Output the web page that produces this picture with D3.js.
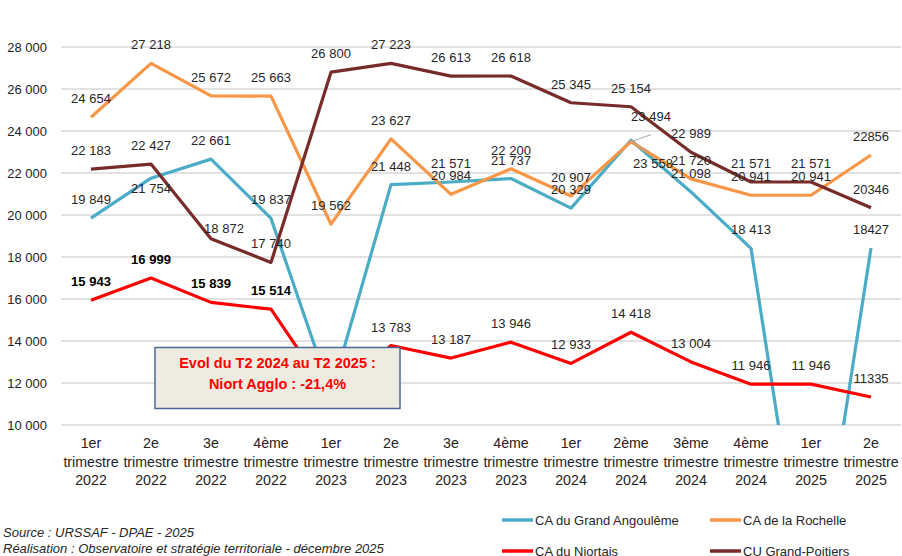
<!DOCTYPE html>
<html>
<head>
<meta charset="utf-8">
<script src="https://cdn.jsdelivr.net/npm/d3@7"></script>
<style>
  body { margin: 0; background: #fff; }
  svg { display: block; font-family: "Liberation Sans", Arial, sans-serif; }
</style>
</head>
<body>
<svg id="chart" width="902" height="556"></svg>
<script>
// categories (two-line labels: quarter / year)
const quarters = ['1er', '2e', '3e', '4ème', '1er', '2e', '3e', '4ème', '1er', '2ème', '3ème', '4ème', '1er', '2e'];
const years = ['2022', '2022', '2022', '2022', '2023', '2023', '2023', '2023', '2024', '2024', '2024', '2024', '2025', '2025'];

// values (Q1 2023 for Angoulême / Niort hidden behind the note, estimated)
const angouleme = [19849, 21754, 22661, 19837, 11500, 21448, 21571, 21737, 20329, 23558, 21098, 18413, 0, 18427];
const rochelle = [24654, 27218, 25672, 25663, 19562, 23627, 20984, 22200, 20907, 23494, 21720, 20941, 20941, 22856];
const niort = [15943, 16999, 15839, 15514, 11300, 13783, 13187, 13946, 12933, 14418, 13004, 11946, 11946, 11335];
const poitiers = [22183, 22427, 18872, 17740, 26800, 27223, 26613, 26618, 25345, 25154, 22989, 21571, 21571, 20346];

const yTicks = [10000, 12000, 14000, 16000, 18000, 20000, 22000, 24000, 26000, 28000];

const series = [
  { name: 'CA du Grand Angoulême', values: angouleme, color: '#4BACC6' },
  { name: 'CA de la Rochelle', values: rochelle, color: '#F79646' },
  { name: 'CA du Niortais', values: niort, color: '#FF0000', bold: [0, 1, 2, 3] },
  { name: 'CU Grand-Poitiers', values: poitiers, color: '#772C2A' },
];

// label nudges for the few labels that were moved by hand (series index, point index)
const labelTweaks = {
  '0-1': { dx: 0, dy: 29 },
  '3-2': { dx: 13, dy: 8 },
  '1-9': { dx: 20, dy: -7 },
  '0-9': { dx: 22, dy: 42 },
};

const svg = d3.select('#chart');
const plotLeft = 61;
const plotRight = 901;
const plotTop = 47;
const plotBottom = 425;

// note box, drawn over the chart
const noteBox = { x: 155, y: 347.5, w: 245, h: 61 };

const x = d3.scalePoint()
  .domain(d3.range(quarters.length))
  .range([plotLeft, plotRight])
  .padding(0.5);

const y = d3.scaleLinear()
  .domain([10000, 28000])
  .range([plotBottom, plotTop]);

const fmt = (v, i) => {
  const s = d3.format(',')(v);
  // the last quarter has no thousands separator in the original
  return i === quarters.length - 1 ? s.replace(/,/g, '') : s.replace(/,/g, ' ');
};

// gridlines
svg.append('g')
  .selectAll('line')
  .data(yTicks)
  .enter().append('line')
  .attr('x1', plotLeft)
  .attr('x2', plotRight)
  .attr('y1', d => y(d))
  .attr('y2', d => y(d))
  .attr('stroke', '#D9D9D9')
  .attr('stroke-width', 1.3);

// y axis labels
const yAxis = svg.append('g')
  .attr('transform', `translate(${plotLeft},0)`)
  .call(d3.axisLeft(y).tickValues(yTicks).tickSize(0).tickPadding(14)
    .tickFormat(d => d3.format(',')(d).replace(/,/g, ' ')));
yAxis.select('.domain').remove();
yAxis.selectAll('text')
  .attr('font-family', '"Liberation Sans", Arial, sans-serif')
  .attr('font-size', 13)
  .attr('fill', '#222');

// x axis labels
const xLab = svg.append('g')
  .selectAll('text')
  .data(quarters)
  .enter().append('text')
  .attr('x', (d, i) => x(i))
  .attr('text-anchor', 'middle')
  .attr('font-size', 14.2)
  .attr('fill', '#222');
xLab.append('tspan').attr('x', (d, i) => x(i)).attr('y', 448).text(d => d);
xLab.append('tspan').attr('x', (d, i) => x(i)).attr('y', 466.5).text('trimestre');
xLab.append('tspan').attr('x', (d, i) => x(i)).attr('y', 485).text((d, i) => years[i]);

// clip lines to the plot area
svg.append('clipPath').attr('id', 'plotclip')
  .append('rect')
  .attr('x', 0).attr('y', 0)
  .attr('width', 902).attr('height', plotBottom);

const line = d3.line()
  .x((d, i) => x(i))
  .y(d => y(d));

const lines = svg.append('g').attr('clip-path', 'url(#plotclip)');
// draw order: Angoulême, Rochelle, Niort, Poitiers (Poitiers on top)
series.forEach((s) => {
  lines.append('path')
    .datum(s.values)
    .attr('d', line)
    .attr('fill', 'none')
    .attr('stroke', s.color)
    .attr('stroke-width', 3.2)
    .attr('stroke-linejoin', 'round');
});

// leader lines for the moved labels at 2e trimestre 2024
const lead = svg.append('g').attr('stroke', '#A6A6A6').attr('stroke-width', 1);
lead.append('line')
  .attr('x1', x(9)).attr('y1', y(rochelle[9]))
  .attr('x2', x(9) + 20).attr('y2', y(rochelle[9]) - 7);
lead.append('line')
  .attr('x1', x(9) + 2).attr('y1', y(angouleme[9]) + 2)
  .attr('x2', x(9) + 16).attr('y2', y(angouleme[9]) + 12);

// data labels
const labels = svg.append('g')
  .attr('font-size', 13)
  .attr('fill', '#262626')
  .attr('text-anchor', 'middle');
series.forEach((s, si) => {
  s.values.forEach((v, i) => {
    if (v < 10000) return; // out of the plot area
    const tw = labelTweaks[`${si}-${i}`] || { dx: 0, dy: 0 };
    const lx = x(i) + tw.dx;
    const ly = y(v) - 14 + tw.dy;
    // labels sitting under the note box are not visible in the original
    if (lx > noteBox.x && lx < noteBox.x + noteBox.w && ly > noteBox.y && ly < noteBox.y + noteBox.h + 10) return;
    const isBold = s.bold && s.bold.includes(i);
    labels.append('text')
      .attr('x', lx)
      .attr('y', ly)
      .attr('font-weight', isBold ? 'bold' : 'normal')
      .attr('fill', isBold ? '#000' : '#262626')
      .text(fmt(v, i));
  });
});

const note = svg.append('g');
note.append('rect')
  .attr('x', noteBox.x).attr('y', noteBox.y)
  .attr('width', noteBox.w).attr('height', noteBox.h)
  .attr('fill', '#EEECE1')
  .attr('stroke', '#4A6A96')
  .attr('stroke-width', 1.5);
note.append('text')
  .attr('x', noteBox.x + noteBox.w / 2).attr('y', 368)
  .attr('text-anchor', 'middle')
  .attr('font-size', 14.5)
  .attr('font-weight', 'bold')
  .attr('fill', '#FF0000')
  .text('Evol du T2 2024 au T2 2025 :');
note.append('text')
  .attr('x', noteBox.x + noteBox.w / 2).attr('y', 389)
  .attr('text-anchor', 'middle')
  .attr('font-size', 14.5)
  .attr('font-weight', 'bold')
  .attr('fill', '#FF0000')
  .text('Niort Agglo : -21,4%');

// legend (2 x 2), second row is cut by the bottom edge as in the original
const legendPos = [[502, 520], [710, 520], [502, 551], [710, 551]];
const legend = svg.append('g')
  .selectAll('g')
  .data(series)
  .enter().append('g')
  .attr('transform', (d, i) => `translate(${legendPos[i][0]},${legendPos[i][1]})`);
legend.append('line')
  .attr('x1', 0).attr('x2', 31)
  .attr('stroke', d => d.color)
  .attr('stroke-width', 3.5);
legend.append('text')
  .attr('x', 33)
  .attr('y', 4.5)
  .attr('font-size', 13)
  .attr('fill', '#262626')
  .text(d => d.name);

// source
const foot = svg.append('g')
  .attr('font-size', 13)
  .attr('font-style', 'italic')
  .attr('fill', '#262626');
foot.append('text').attr('x', 3).attr('y', 537).text('Source : URSSAF - DPAE - 2025');
foot.append('text').attr('x', 3).attr('y', 553).text('Réalisation : Observatoire et stratégie territoriale - décembre 2025');
</script>
</body>
</html>
